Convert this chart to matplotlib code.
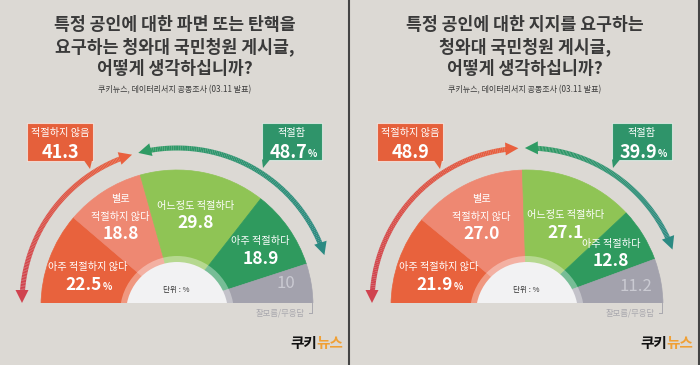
import numpy as np
import matplotlib
matplotlib.use('Agg')
import matplotlib.pyplot as plt
from matplotlib.patches import Wedge, Polygon, Rectangle
from matplotlib.collections import LineCollection
from matplotlib.colors import to_rgb

plt.rcParams['font.family'] = ['Noto Sans CJK KR', 'DejaVu Sans']

W, H = 700, 365

# ---- data ----
titles = [
    ["특정 공인에 대한 파면 또는 탄핵을", "요구하는 청와대 국민청원 게시글,", "어떻게 생각하십니까?"],
    ["특정 공인에 대한 지지를 요구하는", "청와대 국민청원 게시글,", "어떻게 생각하십니까?"],
]
subtitle = "쿠키뉴스, 데이터리서치 공동조사 (03.11 발표)"
categories = ["아주 적절하지 않다", "별로\n적절하지 않다", "어느정도 적절하다", "아주 적절하다", "잘모름/무응답"]
values_left = [22.5, 18.8, 29.8, 18.9, 10]
values_right = [21.9, 27.0, 27.1, 12.8, 11.2]
not_appropriate = [41.3, 48.9]
appropriate = [48.7, 39.9]
group_names = ["적절하지 않음", "적절함"]

colors = ['#E8623D', '#EE8872', '#8FC455', '#2F9A5E', '#A3A2AD']
bg = '#DCD9D4'

# label nudges (pixels, y down) from the wedge mid-angle position
nudges = [
    [(-3, 5), (-7, -9), (1, 2), (8, 0), (18, -5)],
    [(-2, 4), (-5, -4), (4, 6), (6, -2), (18, 0)],
]

fig = plt.figure(figsize=(7, 3.65), dpi=100, facecolor=bg)
ax = fig.add_axes([0, 0, 1, 1])
ax.set_xlim(0, W)
ax.set_ylim(0, H)
ax.set_aspect('equal')
ax.axis('off')
ax.set_facecolor(bg)


def Y(py):
    return H - py


def pt(cx, cy, r, deg):
    a = np.radians(deg)
    return cx + r * np.cos(a), cy + r * np.sin(a)


def arc_arrow(cx, cy, r, a0, a1, c0, c1, lw=3.6, head_len=13, head_w=13):
    # arrow along an arc from angle a0 to a1 (degrees), heads at both ends
    dl = np.degrees(head_len / r)
    s = 1 if a1 > a0 else -1
    angs = np.linspace(a0 + s * dl * 0.8, a1 - s * dl * 0.8, 120)
    xs, ys = pt(cx, cy, r, angs)
    segs = np.stack([np.column_stack([xs[:-1], ys[:-1]]),
                     np.column_stack([xs[1:], ys[1:]])], axis=1)
    c0, c1 = np.array(to_rgb(c0)), np.array(to_rgb(c1))
    t = np.linspace(0, 1, len(segs))[:, None]
    ax.add_collection(LineCollection(segs, colors=c0 * (1 - t) + c1 * t,
                                     linewidths=lw, capstyle='butt', zorder=3))
    for ang, direc, col in [(a0, -s, c0), (a1, s, c1)]:
        a = np.radians(ang)
        tip = np.array(pt(cx, cy, r, ang))
        tang = np.array([-np.sin(a), np.cos(a)]) * direc
        norm = np.array([np.cos(a), np.sin(a)])
        base = tip - tang * head_len
        tri = [tip, base + norm * head_w / 2, base - norm * head_w / 2]
        ax.add_patch(Polygon(tri, closed=True, facecolor=col, edgecolor='none', zorder=3))


def callout(x0, x1, y0, y1, tail, col, label, num, pct):
    ax.add_patch(Rectangle((x0, Y(y1)), x1 - x0, y1 - y0, facecolor=col,
                           edgecolor=(1, 1, 1, 0.6), linewidth=0.8, zorder=4))
    ax.add_patch(Polygon([(tail[0] - 4, Y(y1) + 0.5), (tail[0] + 4, Y(y1) + 0.5),
                          (tail[1], Y(y1 + 8))], closed=True, facecolor=col,
                         edgecolor='none', zorder=4))
    xc = (x0 + x1) / 2
    ax.text(xc, Y(y0 + 10), label, color='white', fontsize=7.3, ha='center',
            va='center', zorder=5)
    t = ax.text(xc - (4 if pct else 0), Y(y0 + 29), num, color='white', fontsize=13,
                fontweight='bold', ha='center', va='center', zorder=5)
    if pct:
        ax.annotate('%', xy=(1.02, 0.12), xycoords=t, color='white', fontsize=7,
                    fontweight='bold', ha='left', va='bottom', zorder=5)


panels = [values_left, values_right]
for i, values in enumerate(panels):
    off = 350 * i
    cx, cy = 177 + off, Y(303)
    R = 136
    tx = 175 + off

    # title + subtitle
    for k, line in enumerate(titles[i]):
        ax.text(tx, Y(25.5 + 21.5 * k), line, fontsize=12.4, fontweight='heavy',
                color='#3A3A3A', ha='center', va='center')
    ax.text(tx, Y(90), subtitle, fontsize=5.8, color='#3B3B3B', ha='center', va='center')

    # clip everything of the gauge at the baseline
    clip = Rectangle((off, cy), 350, 200, transform=ax.transData)

    total = sum(values)
    start = 180.0
    for j, (v, col) in enumerate(zip(values, colors)):
        sweep = v / total * 180
        w = Wedge((cx, cy - 3), R, start - sweep, start, facecolor=col,
                  edgecolor=col, linewidth=0.5, zorder=1)
        ax.add_patch(w)
        w.set_clip_path(clip)
        mid = start - sweep / 2
        start -= sweep

        bx, by = pt(cx, cy, 92, mid)
        bx += nudges[i][j][0]
        by -= nudges[i][j][1]
        num = str(v)
        if j == 4:
            ax.text(bx, by, num, fontsize=12, color='#CACAD2', ha='center',
                    va='center', zorder=3)
            continue
        lines = categories[j].split('\n')
        n = len(lines) + 1
        for k, ln in enumerate(lines):
            ax.text(bx, by - (k - (n - 1) / 2) * 17.5, ln, fontsize=7.3, color='white',
                    ha='center', va='center', zorder=3)
        ny = by - (n - 1 - (n - 1) / 2) * 17.5
        t = ax.text(bx - (4 if j == 0 else 0), ny, num, fontsize=12.5, fontweight='bold',
                    color='white', ha='center', va='center', zorder=3)
        if j == 0:
            ax.annotate('%', xy=(1.03, 0.12), xycoords=t, color='white', fontsize=7,
                        fontweight='bold', ha='left', va='bottom', zorder=3)

    # inner white hub with a light ring
    for r, fc, z in [(57, (1, 1, 1, 0.35), 2), (51, '#F2F2F3', 2)]:
        hub = Wedge((cx, cy - 10), r, 0, 180, facecolor=fc, edgecolor='none', zorder=z)
        ax.add_patch(hub)
        hub.set_clip_path(clip)
    ax.text(cx - 1, Y(290), "단위 : %", fontsize=5.5, color='#333333', ha='center',
            va='center', zorder=3)

    # don't-know label with bracket
    ax.plot([cx + R - 1, cx + R - 1, cx + R - 4], [cy, Y(313), Y(313)],
            color='#A9A8AE', linewidth=0.7)
    ax.text(cx + R - 8, Y(313), categories[4], fontsize=6, color='#A9A8AE',
            ha='right', va='center')

    # group arrows
    split = 180 - not_appropriate[i] / 100 * 180
    green_end = split - appropriate[i] / 100 * 180
    arc_arrow(cx, cy, 155, 180, split + 1.2, '#D0434F', '#E9603E')
    arc_arrow(cx, cy, 155, split - 1.2, green_end, '#2F9B64', '#2B8A82')

    # callout boxes
    callout(27 + off, 93 + off, 123, 161, (88 + off, 90 + off), '#E5603B',
            group_names[0], str(not_appropriate[i]), False)
    callout(262 + off, 322 + off, 123, 160, (266 + off, 263 + off), '#2F946A',
            group_names[1], str(appropriate[i]), True)

    # logo
    lt = ax.text(290 + off, Y(343), "쿠키", fontsize=10.5, fontweight='heavy',
                 color='#111111', ha='left', va='center')
    ax.annotate("뉴스", xy=(1.0, 0.5), xycoords=lt, fontsize=10.5, fontweight='heavy',
                color='#F0A035', ha='left', va='center')

    # panel border on the right
    ax.plot([off + 347.5, off + 347.5], [0, H], color='#F2F0EC', linewidth=0.8)
    ax.plot([off + 349.3, off + 349.3], [0, H], color='#444444', linewidth=1.5)

fig.savefig('out.png', dpi=100, facecolor=bg)
